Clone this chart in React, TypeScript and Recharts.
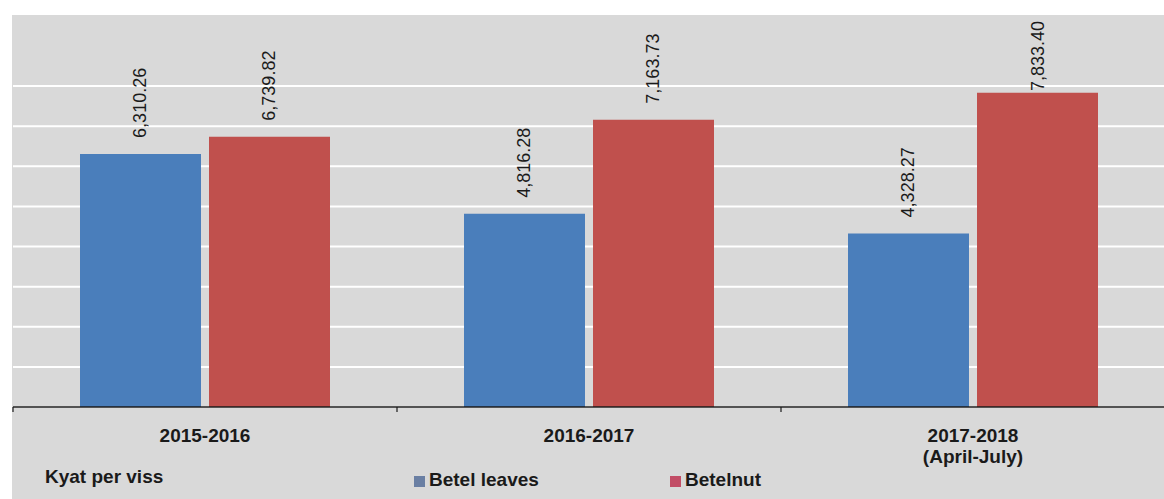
import React from 'react';
import { BarChart, Bar, XAxis, YAxis, CartesianGrid, LabelList } from 'recharts';

const categories = ['2015-2016', '2016-2017', '2017-2018\n(April-July)'];
const betelLeaves = [6310.26, 4816.28, 4328.27];
const betelnut = [6739.82, 7163.73, 7833.4];
const yTicks = [0, 1000, 2000, 3000, 4000, 5000, 6000, 7000, 8000];
const seriesNames = ['Betel leaves', 'Betelnut'];
const unitLabel = 'Kyat per viss';

const CHART_W = 1165;
const CHART_H = 499;
const MARGIN = { top: 46, right: 0, bottom: 0, left: 13 };
const FONT = '"Liberation Sans", Arial, sans-serif';
const BLUE = '#4a7ebb';
const RED = '#c0504d';

const data = categories.map((name, i) => ({
	name,
	leaves: betelLeaves[i],
	nut: betelnut[i],
}));

const fmt = (v: number) => v.toLocaleString('en-US', { minimumFractionDigits: 2, maximumFractionDigits: 2 });

// rotated value label, pushed down when it would run past the top of the chart
const ValueLabel = (props: any) => {
	const { x, y, width, value } = props;
	const text = fmt(Number(value));
	const cx = x + width / 2 + 6;
	const estLen = text.length * 8.75;
	const sy = Math.max(y - 16, 21 + estLen);
	return (
		<text
			x={cx}
			y={sy}
			transform={`rotate(-90 ${cx} ${sy})`}
			fontFamily={FONT}
			fontSize={18}
			fill="#1a1a1a"
			textAnchor="start"
		>
			{text}
		</text>
	);
};

const halfBand = (CHART_W - MARGIN.left - MARGIN.right) / categories.length / 2;

const CategoryTick = (props: any) => {
	const { x, y, payload } = props;
	const lines = String(payload.value).split('\n');
	return (
		<g>
			<line x1={x - halfBand} x2={x - halfBand} y1={y} y2={y + 5} stroke="#1a1a1a" strokeWidth={1.2} />
			{lines.map((l, i) => (
				<text
					key={i}
					x={x}
					y={y + 35 + i * 21}
					textAnchor="middle"
					fontFamily={FONT}
					fontWeight="bold"
					fontSize={19}
					fill="#1a1a1a"
				>
					{l}
				</text>
			))}
		</g>
	);
};

const legendText: React.CSSProperties = {
	position: 'absolute',
	fontFamily: FONT,
	fontWeight: 'bold',
	fontSize: 19,
	color: '#1a1a1a',
	lineHeight: '22px',
};

export default function App() {
	return (
		<div style={{ position: 'relative', width: 1164, height: CHART_H, overflow: 'hidden', background: '#fff' }}>
			<style>{'body{margin:0}'}</style>
			<div style={{ position: 'absolute', left: 12, top: 15, right: 0, bottom: 0, background: '#d9d9d9' }} />
			<div style={{ position: 'absolute', left: 0, top: 0 }}>
				<BarChart width={CHART_W} height={CHART_H} data={data} margin={MARGIN} barSize={121} barGap={8}>
					<CartesianGrid horizontal vertical={false} horizontalValues={yTicks} stroke="#ffffff" strokeWidth={2} />
					<YAxis hide domain={[0, 9000]} ticks={yTicks} />
					<XAxis
						dataKey="name"
						height={92}
						interval={0}
						tickSize={0}
						tickMargin={0}
						tickLine={false}
						axisLine={{ stroke: '#1a1a1a', strokeWidth: 1.5 }}
						tick={<CategoryTick />}
					/>
					<Bar dataKey="leaves" name={seriesNames[0]} fill={BLUE} isAnimationActive={false}>
						<LabelList dataKey="leaves" content={<ValueLabel />} />
					</Bar>
					<Bar dataKey="nut" name={seriesNames[1]} fill={RED} isAnimationActive={false}>
						<LabelList dataKey="nut" content={<ValueLabel />} />
					</Bar>
				</BarChart>
			</div>
			<div style={{ ...legendText, left: 45, top: 466 }}>{unitLabel}</div>
			<div style={{ position: 'absolute', left: 414, top: 476, width: 11, height: 11, background: '#6a7fa3' }} />
			<div style={{ ...legendText, left: 429, top: 469 }}>{seriesNames[0]}</div>
			<div style={{ position: 'absolute', left: 670, top: 476, width: 11, height: 11, background: '#c24d66' }} />
			<div style={{ ...legendText, left: 685, top: 469 }}>{seriesNames[1]}</div>
		</div>
	);
}
